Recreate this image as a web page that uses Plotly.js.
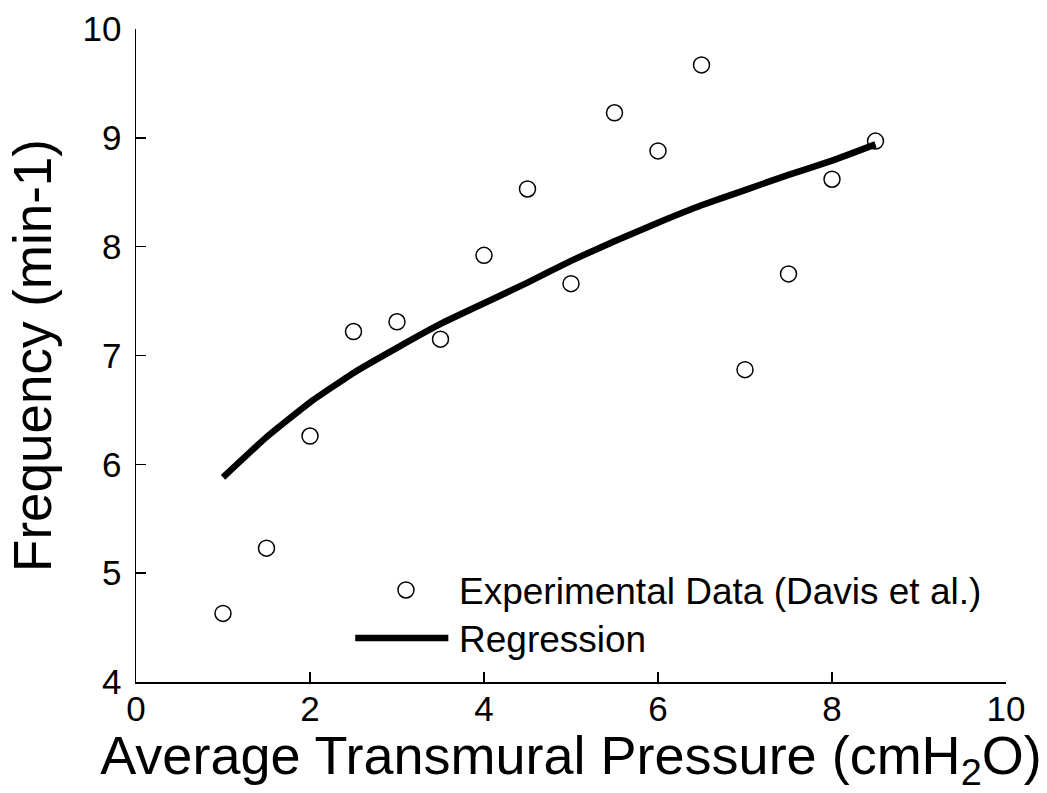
<!DOCTYPE html>
<html>
<head>
<meta charset="utf-8">
<script src="https://cdn.plot.ly/plotly-3.0.1.min.js"></script>
<style>html,body{margin:0;padding:0;background:#fff;}#chart{width:1047px;height:793px;}</style>
</head>
<body>
<div id="chart"></div>
<script>
// Experimental data (Davis et al.)
var pressure = [1, 1.5, 2, 2.5, 3, 3.5, 4, 4.5, 5, 5.5, 6, 6.5, 7, 7.5, 8, 8.5];
var frequency = [4.63, 5.23, 6.26, 7.22, 7.31, 7.15, 7.92, 8.53, 7.66, 9.23, 8.88, 9.67, 6.87, 7.75, 8.62, 8.97];

// Regression curve
var regX = [1, 1.5, 2, 2.5, 3, 3.5, 4, 4.5, 5, 5.5, 6, 6.5, 7, 7.5, 8, 8.5];
var regY = [5.88, 6.25, 6.57, 6.84, 7.07, 7.29, 7.48, 7.67, 7.87, 8.05, 8.22, 8.38, 8.52, 8.66, 8.79, 8.94];

var xTicks = [0, 2, 4, 6, 8, 10];
var yTicks = [4, 5, 6, 7, 8, 9, 10];

var legendLabels = ['Experimental Data (Davis et al.)', 'Regression'];

var FONT = '"Liberation Sans", Arial, sans-serif';

var traces = [
  {
    x: pressure, y: frequency, mode: 'markers', type: 'scatter',
    name: legendLabels[0],
    marker: {symbol: 'circle-open', size: 16, color: '#000', line: {width: 1.5, color: '#000'}},
    showlegend: false
  },
  {
    x: regX, y: regY, mode: 'lines', type: 'scatter',
    name: legendLabels[1],
    line: {color: '#000', width: 6.5, shape: 'spline', smoothing: 0.4},
    showlegend: false
  }
];

var layout = {
  width: 1047, height: 793,
  paper_bgcolor: '#fff', plot_bgcolor: '#fff',
  margin: {l: 136, r: 41, t: 29, b: 111},
  font: {family: FONT, color: '#000', size: 36},
  xaxis: {
    range: [0, 10], tickvals: xTicks, ticktext: xTicks.map(String),
    showgrid: false, zeroline: false, showline: true, linecolor: '#000', linewidth: 1.5,
    ticks: 'inside', ticklen: 10, tickwidth: 1.5, tickcolor: '#000',
    tickfont: {family: FONT, size: 35, color: '#000'},
    ticklabelstandoff: -5,
    title: {text: 'Average Transmural Pressure (cmH<sub>2</sub>O)', font: {family: FONT, size: 54, color: '#000'}, standoff: 14},
    automargin: false, fixedrange: true
  },
  yaxis: {
    range: [4, 10], tickvals: yTicks, ticktext: yTicks.map(String),
    showgrid: false, zeroline: false, showline: true, linecolor: '#000', linewidth: 1.5,
    ticks: 'inside', ticklen: 10, tickwidth: 1.5, tickcolor: '#000',
    tickfont: {family: FONT, size: 35, color: '#000'},
    ticklabelstandoff: 6,
    title: {text: 'Frequency (min-1)', font: {family: FONT, size: 53, color: '#000'}, standoff: 14},
    automargin: false, fixedrange: true
  },
  showlegend: false,
  shapes: [
    {type: 'line', xref: 'paper', yref: 'paper', x0: 0.252, x1: 0.359, y0: 0.0674, y1: 0.0674,
     line: {color: '#000', width: 6.5}},
    {type: 'circle', xref: 'paper', yref: 'paper', xsizemode: 'pixel', ysizemode: 'pixel',
     xanchor: 0.3103, yanchor: 0.1409, x0: -8, x1: 8, y0: -8, y1: 8,
     line: {color: '#000', width: 1.5}}
  ],
  annotations: [
    {xref: 'paper', yref: 'paper', x: 0.369, y: 0.139, xanchor: 'left', yanchor: 'middle',
     text: legendLabels[0], showarrow: false, font: {family: FONT, size: 37, color: '#000'}},
    {xref: 'paper', yref: 'paper', x: 0.369, y: 0.065, xanchor: 'left', yanchor: 'middle',
     text: legendLabels[1], showarrow: false, font: {family: FONT, size: 37, color: '#000'}}
  ]
};

Plotly.newPlot('chart', traces, layout, {displayModeBar: false, staticPlot: true});
</script>
</body>
</html>
